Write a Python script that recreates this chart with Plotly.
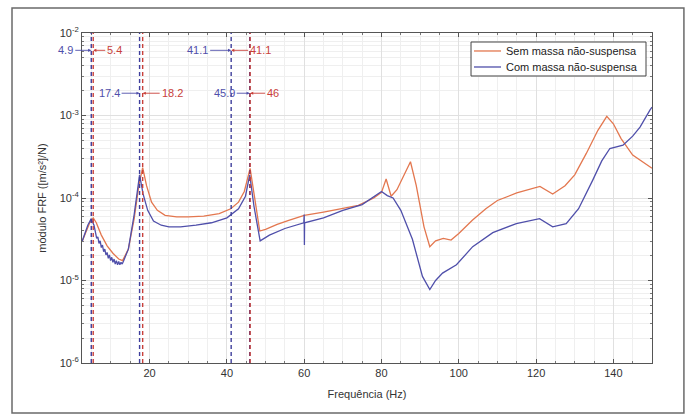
import plotly.graph_objects as go

# Frequency response, without unsprung mass (Sem) and with unsprung mass (Com)
freq_sem = [2.5, 3.5, 4.5, 5.4, 6.2, 7.5, 9, 10.5, 12, 13, 14.5, 16, 17.2, 18.2, 19.2,
            20.5, 22, 24, 27, 30, 34, 38, 41, 43, 44.5, 46, 47, 48.5, 50, 53, 56, 60,
            65, 70, 74, 78, 80, 81.2, 82.5, 84, 86, 87.5, 89, 91, 92.5, 94, 96, 98, 100,
            103.5, 107, 110, 115, 118, 121, 124.3, 127.5, 130, 133, 136, 138.3, 140,
            142, 145, 148, 150]
frf_sem = [2.95e-5, 3.80e-5, 5.01e-5, 5.75e-5, 5.01e-5, 3.55e-5, 2.63e-5, 2.14e-5,
           1.82e-5, 1.74e-5, 2.40e-5, 5.62e-5, 1.41e-4, 2.34e-4, 1.41e-4, 8.91e-5,
           7.08e-5, 6.17e-5, 5.89e-5, 5.89e-5, 6.03e-5, 6.46e-5, 7.41e-5, 8.91e-5,
           1.20e-4, 2.29e-4, 1.12e-4, 3.98e-5, 4.17e-5, 4.79e-5, 5.37e-5, 6.17e-5,
           6.76e-5, 7.41e-5, 8.13e-5, 1.00e-4, 1.17e-4, 1.70e-4, 1.05e-4, 1.26e-4,
           2.00e-4, 2.75e-4, 1.41e-4, 4.47e-5, 2.57e-5, 3.02e-5, 3.24e-5, 3.09e-5,
           3.72e-5, 5.37e-5, 7.41e-5, 9.33e-5, 1.15e-4, 1.26e-4, 1.38e-4, 1.12e-4,
           1.41e-4, 1.91e-4, 3.47e-4, 6.61e-4, 9.77e-4, 7.94e-4, 5.25e-4, 3.31e-4,
           2.63e-4, 2.29e-4]

freq_com = [2.5, 3.5, 4.0, 4.9, 5.6, 6.0, 6.3, 6.6, 6.9, 7.2, 7.5, 7.8, 8.1, 8.4, 8.7,
            9.0, 9.3, 9.6, 9.9, 10.2, 10.5, 10.8, 11.1, 11.4, 11.7, 12.0, 12.3, 12.6,
            12.9, 13.2, 14.5, 16, 17.4, 18.3, 19.5, 21, 23, 25, 28, 32, 36, 40, 43,
            44.8, 45.9, 47, 48.6, 51, 55, 59.9, 60.0, 60.05, 60.1, 65, 70, 75, 80,
            81.5, 83, 85, 88, 90.6, 92.5, 94, 95.8, 99.4, 103.6, 108.8, 114.9, 120.9,
            124.3, 127.8, 131, 134.7, 137, 139.1, 142.5, 145, 146.9, 149.5, 150]
frf_com = [2.95e-5, 3.98e-5, 4.68e-5, 5.62e-5, 4.68e-5, 3.80e-5, 3.24e-5, 3.39e-5,
           2.82e-5, 3.02e-5, 2.51e-5, 2.69e-5, 2.24e-5, 2.40e-5, 2.04e-5, 2.19e-5,
           1.86e-5, 2.04e-5, 1.74e-5, 1.91e-5, 1.66e-5, 1.82e-5, 1.58e-5, 1.74e-5,
           1.55e-5, 1.70e-5, 1.55e-5, 1.66e-5, 1.58e-5, 1.70e-5, 2.40e-5, 6.31e-5,
           1.91e-4, 1.12e-4, 7.08e-5, 5.25e-5, 4.68e-5, 4.47e-5, 4.47e-5, 4.68e-5,
           5.01e-5, 5.75e-5, 7.41e-5, 1.05e-4, 1.91e-4, 7.94e-5, 3.02e-5, 3.55e-5,
           4.27e-5, 5.01e-5, 6.31e-5, 2.69e-5, 5.01e-5, 5.75e-5, 7.08e-5, 8.32e-5,
           1.20e-4, 1.07e-4, 1.00e-4, 7.08e-5, 3.16e-5, 1.12e-5, 7.76e-6, 1.00e-5,
           1.23e-5, 1.55e-5, 2.57e-5, 3.80e-5, 4.90e-5, 5.62e-5, 4.47e-5, 4.90e-5,
           7.41e-5, 1.66e-4, 2.82e-4, 3.98e-4, 4.37e-4, 5.62e-4, 7.24e-4, 1.17e-3,
           1.26e-3]

series_names = ["Sem massa não-suspensa", "Com massa não-suspensa"]

# Natural frequencies marked on the chart
peaks_sem = [5.4, 18.2, 46]
peaks_com = [4.9, 17.4, 41.1, 45.9]

# Paired frequency labels: (blue label, red label, blue x, red x, row level as log10)
label_pairs = [
    ("4.9", "5.4", 4.9, 5.4, -2.21),
    ("41.1", "41.1", 41.1, 41.1, -2.21),
    ("17.4", "18.2", 17.4, 18.2, -2.73),
    ("45.9", "46", 45.9, 46, -2.73),
]

x_ticks = [20, 40, 60, 80, 100, 120, 140]
y_ticks = [1e-6, 1e-5, 1e-4, 1e-3, 1e-2]
y_ticktext = ["10<sup>-6</sup>", "10<sup>-5</sup>", "10<sup>-4</sup>",
              "10<sup>-3</sup>", "10<sup>-2</sup>"]

ORANGE = "#E3774F"
BLUE = "#4F4FAA"
RED_DASH = "#C8403A"
BLUE_DASH = "#3E3E9C"
FONT = "Liberation Sans, Arial, sans-serif"

fig = go.Figure()

for fx, fy, name, color in [(freq_sem, frf_sem, series_names[0], ORANGE),
                            (freq_com, frf_com, series_names[1], BLUE)]:
    fig.add_trace(go.Scatter(x=fx, y=fy, mode="lines", name=name,
                             line=dict(color=color, width=1.3), showlegend=False))

# Dashed vertical markers at the resonance frequencies
for f in peaks_com:
    fig.add_shape(type="line", xref="x", yref="paper", x0=f, x1=f, y0=0, y1=1,
                  line=dict(color=BLUE_DASH, width=1.4, dash="4px,3px"))
for f in peaks_sem:
    fig.add_shape(type="line", xref="x", yref="paper", x0=f, x1=f, y0=0, y1=1,
                  line=dict(color=RED_DASH, width=1.4, dash="4px,3px"))

offsets = {"4.9": (-16, 12), "41.1": (-21, 17), "17.4": (-18, 17), "45.9": (-13, 15)}
for blue_txt, red_txt, bx, rx, yv in label_pairs:
    lo, ro = offsets[blue_txt]
    fig.add_annotation(x=bx, y=yv, xref="x", yref="y", text=blue_txt,
                       showarrow=True, ax=lo, ay=0, xanchor="right",
                       arrowhead=2, arrowsize=0.7, arrowwidth=0.9,
                       arrowcolor=BLUE, font=dict(color=BLUE, size=11, family=FONT))
    fig.add_annotation(x=rx, y=yv, xref="x", yref="y", text=red_txt,
                       showarrow=True, ax=ro, ay=0, xanchor="left",
                       arrowhead=2, arrowsize=0.7, arrowwidth=0.9,
                       arrowcolor=RED_DASH, font=dict(color=RED_DASH, size=11, family=FONT))

# Compact legend box in the upper-right corner of the axes
fig.add_shape(type="rect", xref="paper", yref="paper",
              x0=0.6825, x1=0.9895, y0=0.8697, y1=0.9727,
              line=dict(color="#444444", width=1), fillcolor="white", layer="above")
for name, color, ly in [(series_names[0], ORANGE, 0.9455), (series_names[1], BLUE, 0.897)]:
    fig.add_shape(type="line", xref="paper", yref="paper",
                  x0=0.6877, x1=0.7351, y0=ly, y1=ly,
                  line=dict(color=color, width=1.3), layer="above")
    fig.add_annotation(x=0.7395, y=ly, xref="paper", yref="paper", text=name,
                       showarrow=False, xanchor="left", yanchor="middle",
                       font=dict(size=11, color="#222222", family=FONT))

# Outer figure frame
fig.add_shape(type="rect", xref="paper", yref="paper",
              x0=-0.1228, x1=1.056, y0=-0.1515, y1=1.0758,
              line=dict(color="#6a6a6a", width=1.5), layer="below")

fig.update_layout(
    width=689, height=414,
    margin=dict(l=82, r=37, t=33, b=51),
    paper_bgcolor="white", plot_bgcolor="white",
    font=dict(family=FONT, color="#333333", size=11),
    showlegend=False,
)

fig.update_xaxes(
    range=[2.5, 150], tickmode="array", tickvals=x_ticks,
    title=dict(text="Frequência (Hz)", font=dict(size=11), standoff=12),
    showline=True, linecolor="#555555", linewidth=1, mirror="ticks",
    ticks="inside", ticklen=4, tickcolor="#555555",
    showgrid=True, gridcolor="#e0e0e0", gridwidth=1, zeroline=False,
    minor=dict(dtick=5, tick0=0, showgrid=True, gridcolor="#efefef",
               ticks="inside", ticklen=2, tickcolor="#777777"),
)

minor_y = [m * 10 ** e for e in range(-6, -2) for m in range(2, 10)]
fig.update_yaxes(
    type="log", range=[-6, -2], tickmode="array", tickvals=y_ticks,
    ticktext=y_ticktext,
    title=dict(text="módulo FRF ([m/s²]/N)", font=dict(size=11), standoff=10),
    showline=True, linecolor="#555555", linewidth=1, mirror="ticks",
    ticks="inside", ticklen=4, tickcolor="#555555",
    showgrid=True, gridcolor="#e0e0e0", gridwidth=1, zeroline=False,
    minor=dict(tickmode="array", tickvals=minor_y, showgrid=True,
               gridcolor="#efefef", ticks="inside", ticklen=2, tickcolor="#777777"),
)

fig.write_html("out.html")
